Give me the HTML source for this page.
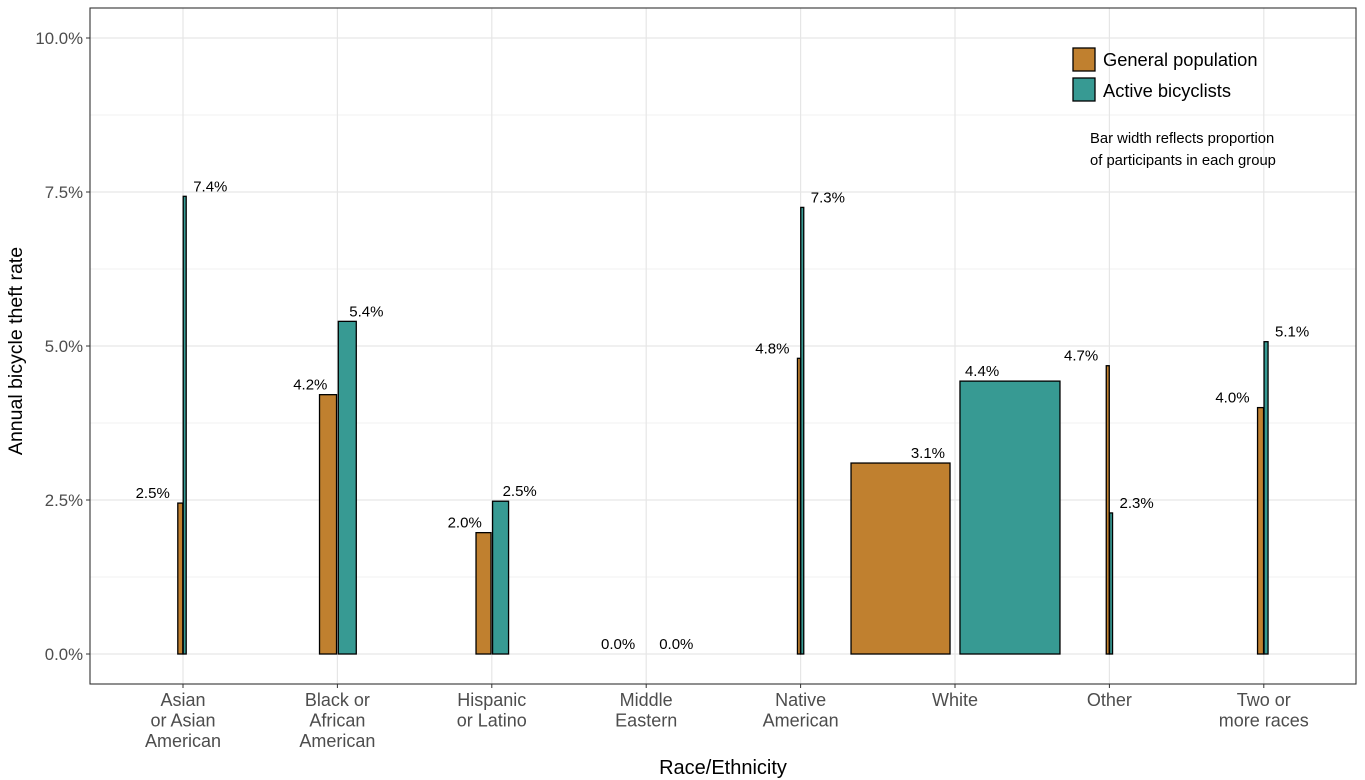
<!DOCTYPE html>
<html><head><meta charset="utf-8"><style>
body{margin:0;background:#fff;}
svg{display:block;font-family:"Liberation Sans",Arial,sans-serif;}
</style></head><body>
<svg id="chart" width="1365" height="780">
<rect x="0" y="0" width="1365" height="780" fill="#fff"/>
<g id="grid"></g><g id="bars"></g><g id="labels"></g><g id="axes"></g>
<g>
<rect x="1073" y="48" width="22" height="23" fill="#c0802f" stroke="#000" stroke-width="1.3"/>
<text x="1103" y="66" font-size="18.3">General population</text>
<rect x="1073" y="78" width="22" height="23" fill="#379a93" stroke="#000" stroke-width="1.3"/>
<text x="1103" y="97" font-size="18.3">Active bicyclists</text>
</g>
<text x="1090" y="143" font-size="14.8">Bar width reflects proportion</text>
<text x="1090" y="165" font-size="14.8">of participants in each group</text>
<text x="723" y="774" font-size="20" text-anchor="middle">Race/Ethnicity</text>
<text transform="translate(22,351) rotate(-90)" font-size="19.5" text-anchor="middle">Annual bicycle theft rate</text>
</svg>
<script>
const categories=[["Asian","or Asian","American"],["Black or","African","American"],["Hispanic","or Latino"],["Middle","Eastern"],["Native","American"],["White"],["Other"],["Two or","more races"]];
const generalRate=[2.45,4.21,1.97,0,4.8,3.1,4.68,4.0];
const activeRate=[7.43,5.40,2.48,0,7.25,4.43,2.29,5.07];
const generalShare=[5,17,15,0.3,3,99,3,6];
const activeShare=[3,18,16,0.3,3,100,3,4];
const yTicks=[0,2.5,5,7.5,10];
const yTickLabels=["0.0%","2.5%","5.0%","7.5%","10.0%"];
const NS="http://www.w3.org/2000/svg";
const L=90,R=1356,T=8,B=684;
const y=v=>654-v*61.6;
const xc=i=>183+i*154.4;
function mk(tag,attrs,parent,txt){const e=document.createElementNS(NS,tag);for(const k in attrs)e.setAttribute(k,attrs[k]);if(txt!==undefined)e.textContent=txt;document.getElementById(parent).appendChild(e);return e;}
for(let v=1.25;v<10.5;v+=2.5){const g=mk("line",{x1:L,x2:R,y1:y(v),y2:y(v),stroke:"#f2f2f2","stroke-width":1},"grid");}
yTicks.forEach((v,i)=>{const g=mk("line",{x1:L,x2:R,y1:y(v),y2:y(v),stroke:"#e6e6e6","stroke-width":1.2},"grid");
const t=mk("text",{x:83,y:y(v)+6,"font-size":16.8,fill:"#4d4d4d","text-anchor":"end"},"axes",yTickLabels[i]);
const k=mk("line",{x1:86,x2:90,y1:y(v),y2:y(v),stroke:"#333"},"axes");});
categories.forEach((c,i)=>{const g=mk("line",{x1:xc(i),x2:xc(i),y1:T,y2:B,stroke:"#e6e6e6","stroke-width":1.2},"grid");
const k=mk("line",{x1:xc(i),x2:xc(i),y1:B,y2:B+4,stroke:"#333"},"axes");
c.forEach((line,j)=>{const t=mk("text",{x:xc(i),y:706+j*20.5,"font-size":18,fill:"#4d4d4d","text-anchor":"middle"},"axes",line);});});
const fr=mk("rect",{x:L,y:T,width:R-L,height:B-T,fill:"none",stroke:"#333","stroke-width":1.1},"axes");

const fmt=v=>v.toFixed(1)+"%";
categories.forEach((c,i)=>{
 const wg=generalShare[i],wa=activeShare[i],gap=Math.max(0.3,(wg+wa)/2*0.1);
 const gx=xc(i)-gap/2-wg, ax=xc(i)+gap/2;
 if(wg>0.5){const b=mk("rect",{x:gx,y:y(generalRate[i]),width:wg,height:y(0)-y(generalRate[i]),fill:"#c0802f",stroke:"#000","stroke-width":1.3},"bars");}
 if(wa>0.5){const b=mk("rect",{x:ax,y:y(activeRate[i]),width:wa,height:y(0)-y(activeRate[i]),fill:"#379a93",stroke:"#000","stroke-width":1.3},"bars");}
 let glx = wg>40 ? gx+wg-5 : (wg>10 ? xc(i)-10 : gx-8);
 if(wg<1) glx=xc(i)-11;
 let alx = wa>40 ? ax+5 : (wa>10 ? ax+wa/2+2 : ax+wa+7);
 if(wa<1) alx=xc(i)+13;
 const t1=mk("text",{x:glx,y:y(generalRate[i])-5,"font-size":15,"text-anchor":"end"},"labels",fmt(generalRate[i]));
 
 const t2=mk("text",{x:alx,y:y(activeRate[i])-5,"font-size":15},"labels",fmt(activeRate[i]));
 
});
</script>
</body></html>
